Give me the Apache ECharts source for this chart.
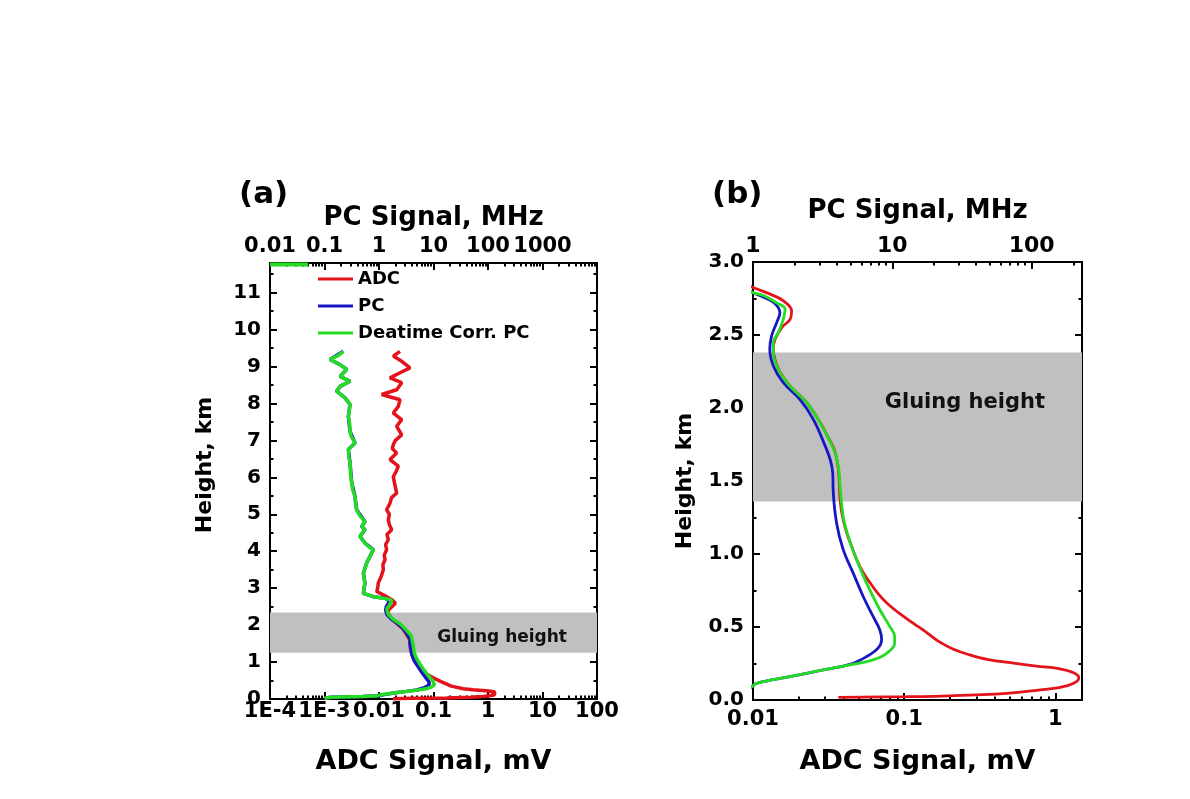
<!DOCTYPE html>
<html><head><meta charset="utf-8">
<script src="https://cdn.jsdelivr.net/npm/echarts@6/dist/echarts.min.js"></script>
<style>html,body{margin:0;padding:0;background:#fff}#c{width:1190px;height:799px}</style>
</head><body><div id="c"></div>
<script>
// ---------- tick values / labels ----------
const aAdcTicks = [1e-4, 1e-3, 0.01, 0.1, 1, 10, 100];
const aAdcLabels = ['1E-4', '1E-3', '0.01', '0.1', '1', '10', '100'];
const aPcTicks = [0.01, 0.1, 1, 10, 100, 1000, 10000];
const aPcLabels = ['0.01', '0.1', '1', '10', '100', '1000', ''];
const bAdcTicks = [0.01, 0.1, 1];
const bAdcLabels = ['0.01', '0.1', '1'];
const bPcTicks = [1, 10, 100];
const bPcLabels = ['1', '10', '100'];
const legendNames = ['ADC', 'PC', 'Deatime Corr. PC'];
const gluingA = [1.25, 2.34];
const gluingB = [1.36, 2.38];

// ---------- panel (a) data: [height km, signal] ----------
const aRed = [[0.01,0.018],[0.018,0.04],[0.027,0.173],[0.046,0.478],[0.069,0.796],[0.087,1.08],[0.114,1.32],[0.153,1.43],[0.187,1.32],[0.217,1.03],[0.252,0.53],[0.279,0.353],[0.348,0.212],[0.462,0.141],[0.572,0.099],[0.663,0.077],[0.801,0.0596],[0.961,0.0486],[1.144,0.0417],[1.373,0.0377],[1.60,0.0367],[1.90,0.0278],[2.15,0.0176],[2.33,0.0145],[2.41,0.0150],[2.59,0.0200],[2.68,0.0175],[2.77,0.0138],[2.91,0.0091],[3.02,0.0095],[3.14,0.0097],[3.32,0.0110],[3.50,0.0120],[3.64,0.0118],[3.77,0.0129],[3.90,0.0125],[4.04,0.0138],[4.18,0.0132],[4.31,0.0148],[4.45,0.0140],[4.58,0.0171],[4.72,0.0155],[4.85,0.0148],[5.00,0.0155],[5.12,0.0138],[5.30,0.0159],[5.45,0.0170],[5.57,0.0211],[5.80,0.0195],[6.02,0.0183],[6.15,0.0205],[6.30,0.0226],[6.48,0.0159],[6.66,0.0211],[6.78,0.0175],[6.88,0.0183],[7.00,0.0200],[7.15,0.0261],[7.38,0.0211],[7.56,0.0261],[7.74,0.0183],[7.92,0.0226],[8.10,0.0243],[8.24,0.0112],[8.37,0.0211],[8.56,0.0261],[8.69,0.0159],[8.83,0.0243],[8.96,0.0371],[9.14,0.0261],[9.28,0.0183],[9.41,0.0243]];
const aBlue = [[0.02,0.10],[0.045,0.13],[0.07,0.5],[0.091,0.98],[0.114,1.06],[0.160,1.84],[0.206,3.19],[0.244,4.96],[0.297,6.53],[0.355,7.9],[0.412,8.38],[0.480,8.14],[0.572,7.28],[0.709,6.18],[0.869,5.24],[1.03,4.44],[1.212,3.98],[1.441,3.76],[1.624,3.7],[1.739,3.37],[1.922,2.71],[2.059,2.17],[2.174,1.65],[2.288,1.40],[2.402,1.32],[2.494,1.36],[2.586,1.48],[2.654,1.56],[2.724,1.30],[2.77,0.787],[2.86,0.517],[3.14,0.553],[3.41,0.517],[3.68,0.594],[3.86,0.684],[4.04,0.787],[4.22,0.553],[4.40,0.448],[4.58,0.553],[4.67,0.481],[4.80,0.553],[5.12,0.389],[5.48,0.363],[5.85,0.316],[6.39,0.294],[6.75,0.274],[6.93,0.363],[7.24,0.294],[7.65,0.274],[7.97,0.294],[8.15,0.238],[8.33,0.167],[8.46,0.193],[8.60,0.294],[8.73,0.193],[8.92,0.256],[9.05,0.193],[9.19,0.126],[9.41,0.221]];
const aGreen = [[0.02,0.10],[0.045,0.13],[0.07,0.5],[0.087,0.97],[0.114,1.06],[0.160,1.84],[0.206,3.19],[0.240,4.96],[0.275,7.28],[0.320,9.09],[0.389,10.4],[0.435,10.4],[0.503,9.6],[0.618,8.14],[0.801,6.53],[0.961,5.54],[1.121,4.82],[1.258,4.44],[1.487,4.2],[1.716,3.9],[1.90,3.02],[2.036,2.43],[2.150,1.84],[2.265,1.52],[2.379,1.40],[2.45,1.40],[2.516,1.52],[2.608,1.65],[2.677,1.70],[2.72,1.30],[2.77,0.787],[2.86,0.517],[3.00,0.53],[3.14,0.553],[3.28,0.53],[3.41,0.517],[3.55,0.56],[3.68,0.594],[3.86,0.684],[4.04,0.787],[4.12,0.65],[4.22,0.553],[4.40,0.448],[4.58,0.553],[4.67,0.481],[4.80,0.553],[4.95,0.45],[5.12,0.389],[5.30,0.37],[5.48,0.363],[5.65,0.33],[5.85,0.316],[6.10,0.30],[6.39,0.294],[6.55,0.28],[6.75,0.274],[6.93,0.363],[7.10,0.31],[7.24,0.294],[7.45,0.29],[7.65,0.274],[7.80,0.285],[7.97,0.294],[8.15,0.238],[8.33,0.167],[8.46,0.193],[8.60,0.294],[8.73,0.193],[8.92,0.256],[9.05,0.193],[9.19,0.126],[9.30,0.18],[9.41,0.221]];
const aGreenTop = [[11.76,0.01],[11.76,0.05]];

// ---------- panel (b) data: [height km, signal] ----------
const bRed = [[0.018,0.0367],[0.023,0.104],[0.027,0.173],[0.046,0.478],[0.069,0.796],[0.087,1.08],[0.114,1.32],[0.153,1.43],[0.187,1.32],[0.217,1.03],[0.229,0.796],[0.252,0.53],[0.279,0.353],[0.31,0.27],[0.348,0.212],[0.40,0.17],[0.462,0.141],[0.52,0.117],[0.572,0.099],[0.663,0.077],[0.73,0.067],[0.801,0.0596],[0.88,0.053],[0.961,0.0486],[1.05,0.045],[1.144,0.0417],[1.26,0.039],[1.373,0.0377],[1.49,0.0372],[1.60,0.0365],[1.716,0.0345],[1.81,0.031],[1.90,0.0278],[2.036,0.0227],[2.15,0.0176],[2.25,0.0150],[2.33,0.0140],[2.402,0.0136],[2.471,0.0140],[2.551,0.0155],[2.608,0.0176],[2.665,0.018],[2.734,0.0159],[2.78,0.0130],[2.825,0.0100],[2.85,0.0088]];
const bBlue = [[0.06,0.85],[0.091,0.98],[0.114,1.06],[0.160,1.84],[0.206,3.19],[0.244,4.96],[0.297,6.53],[0.355,7.9],[0.412,8.38],[0.480,8.14],[0.572,7.28],[0.709,6.18],[0.869,5.24],[1.03,4.44],[1.212,3.98],[1.441,3.76],[1.55,3.74],[1.64,3.6],[1.739,3.3],[1.922,2.71],[2.059,2.17],[2.174,1.65],[2.288,1.40],[2.402,1.32],[2.494,1.36],[2.586,1.48],[2.654,1.56],[2.724,1.40],[2.77,1.12],[2.79,1.0],[2.81,0.9]];
const bGreen = [[0.06,0.85],[0.087,0.97],[0.114,1.06],[0.160,1.84],[0.206,3.19],[0.240,4.96],[0.275,7.28],[0.320,9.09],[0.389,10.4],[0.435,10.4],[0.503,9.6],[0.618,8.14],[0.801,6.53],[0.961,5.54],[1.121,4.82],[1.258,4.44],[1.487,4.2],[1.60,4.1],[1.716,3.8],[1.90,3.02],[2.036,2.43],[2.150,1.84],[2.265,1.52],[2.379,1.40],[2.45,1.40],[2.516,1.52],[2.608,1.65],[2.677,1.70],[2.72,1.48],[2.77,1.19],[2.79,1.0],[2.81,0.9]];

// ---------- styling ----------
const FONT = 'DejaVu Sans';
const RED = '#e3121b', BLUE = '#1616c4', GREEN = '#25dc25', BAND = '#c0c0c0';

function minorTicks(lo, hi) {
  const out = [];
  for (let e = Math.floor(Math.log10(lo)) - 1; e <= Math.ceil(Math.log10(hi)); e++) {
    for (let k = 2; k <= 9; k++) { const v = k * Math.pow(10, e); if (v > lo * 1.0001 && v < hi * 0.9999) out.push(v); }
  }
  return out;
}
function lookup(ticks, labels) {
  return function (v) {
    for (let i = 0; i < ticks.length; i++) if (Math.abs(Math.log10(v) - Math.log10(ticks[i])) < 1e-6) return labels[i];
    return '';
  };
}
const black = { color: '#000', width: 2 };
function logAxis(o) {
  return {
    type: 'log', logBase: 10, gridIndex: o.grid, position: o.pos, min: o.min, max: o.max,
    axisLine: { show: true, onZero: false, lineStyle: black },
    axisTick: { show: true, inside: true, length: o.minor ? 3.5 : 7, lineStyle: black, customValues: o.ticks },
    axisLabel: o.labels ? { show: true, customValues: o.ticks, formatter: lookup(o.ticks, o.labels), margin: o.margin,
      fontFamily: FONT, fontWeight: 'bold', fontSize: o.fs, color: '#000' } : { show: false },
    splitLine: { show: false }, minorTick: { show: false },
    name: o.name || '', nameLocation: 'middle', nameGap: o.nameGap || 0,
    nameTextStyle: { fontFamily: FONT, fontWeight: 'bold', fontSize: o.nameSize || 24, color: '#000' },
    silent: true
  };
}
function valAxis(o) {
  return {
    type: 'value', gridIndex: o.grid, position: o.pos, min: o.min, max: o.max, interval: o.interval,
    axisLine: { show: true, onZero: false, lineStyle: black },
    axisTick: { show: true, inside: true, length: 7, lineStyle: black },
    minorTick: { show: true, splitNumber: 2, length: 3.5, lineStyle: black },
    axisLabel: o.labels ? { show: true, margin: o.margin, showMaxLabel: o.showMax, formatter: o.fmt,
      fontFamily: FONT, fontWeight: 'bold', fontSize: 20, color: '#000' } : { show: false },
    splitLine: { show: false }, minorSplitLine: { show: false },
    name: o.name || '', nameLocation: 'middle', nameGap: o.nameGap || 0,
    nameTextStyle: { fontFamily: FONT, fontWeight: 'bold', fontSize: 22, color: '#000', padding: o.namePad || 0 },
    silent: true
  };
}
function line(name, pairs, xi, yi, color, width, smooth, extra) {
  return Object.assign({
    type: 'line', name, xAxisIndex: xi, yAxisIndex: yi,
    data: pairs.map(p => [p[1], p[0]]),
    showSymbol: false, symbol: 'none', smooth: smooth, clip: true,
    lineStyle: { color, width }, itemStyle: { color },
    emphasis: { disabled: true }, silent: true, animation: false
  }, extra || {});
}
function band(range, fs, offset, dist) {
  return {
    silent: true, itemStyle: { color: BAND },
    label: { show: true, position: 'insideRight', distance: dist, offset: offset,
      fontFamily: FONT, fontWeight: 'bold', fontSize: fs, color: '#111' },
    data: [[{ yAxis: range[0], name: 'Gluing height' }, { yAxis: range[1] }]]
  };
}

const GA = { left: 270, top: 263, width: 327, height: 436 };
const GB = { left: 753, top: 262, width: 329, height: 438 };

const option = {
  backgroundColor: '#fff',
  animation: false,
  title: [
    { text: '(a)', left: 239, top: 179, padding: 0, textStyle: { fontFamily: FONT, fontWeight: 'bold', fontSize: 31, color: '#000' } },
    { text: '(b)', left: 712, top: 179, padding: 0, textStyle: { fontFamily: FONT, fontWeight: 'bold', fontSize: 31, color: '#000' } }
  ],
  legend: {
    data: legendNames, orient: 'vertical', left: 318, top: 270, padding: 0,
    icon: 'rect', itemWidth: 35, itemHeight: 3, itemGap: 9, selectedMode: false,
    textStyle: { fontFamily: FONT, fontWeight: 'bold', fontSize: 18, color: '#000' }
  },
  grid: [
    Object.assign({}, GA), Object.assign({}, GA),
    Object.assign({}, GB), Object.assign({}, GB)
  ],
  xAxis: [
    logAxis({ grid: 0, pos: 'bottom', min: 1e-4, max: 100, ticks: aAdcTicks, labels: aAdcLabels, margin: 2, fs: 21, name: 'ADC Signal, mV', nameGap: 49, nameSize: 27 }),
    logAxis({ grid: 0, pos: 'top', min: 0.01, max: 10000, ticks: aPcTicks, labels: aPcLabels, margin: 6, fs: 21, name: 'PC Signal, MHz', nameGap: 30, nameSize: 26 }),
    logAxis({ grid: 1, pos: 'bottom', min: 1e-4, max: 100, ticks: minorTicks(1e-4, 100), minor: true }),
    logAxis({ grid: 1, pos: 'top', min: 0.01, max: 10000, ticks: minorTicks(0.01, 10000), minor: true }),
    logAxis({ grid: 2, pos: 'bottom', min: 0.01, max: 1.5, ticks: bAdcTicks, labels: bAdcLabels, margin: 9, fs: 21, name: 'ADC Signal, mV', nameGap: 48, nameSize: 27 }),
    logAxis({ grid: 2, pos: 'top', min: 1, max: 230, ticks: bPcTicks, labels: bPcLabels, margin: 5, fs: 22, name: 'PC Signal, MHz', nameGap: 38, nameSize: 26 }),
    logAxis({ grid: 3, pos: 'bottom', min: 0.01, max: 1.5, ticks: minorTicks(0.01, 1.5), minor: true }),
    logAxis({ grid: 3, pos: 'top', min: 1, max: 230, ticks: minorTicks(1, 230), minor: true })
  ],
  yAxis: [
    valAxis({ grid: 0, pos: 'left', min: 0, max: 11.8, interval: 1, labels: true, margin: 9, showMax: false, name: 'Height, km', nameGap: 54, namePad: [0, 0, 0, 32] }),
    valAxis({ grid: 0, pos: 'right', min: 0, max: 11.8, interval: 1, labels: false }),
    { gridIndex: 1, type: 'value', show: false, min: 0, max: 1 },
    valAxis({ grid: 2, pos: 'left', min: 0, max: 3, interval: 0.5, labels: true, margin: 9, showMax: true, fmt: v => v.toFixed(1), name: 'Height, km', nameGap: 57 }),
    valAxis({ grid: 2, pos: 'right', min: 0, max: 3, interval: 0.5, labels: false }),
    { gridIndex: 3, type: 'value', show: false, min: 0, max: 1 }
  ],
  series: [
    line('ADC', aRed, 0, 0, RED, 3.5, false, { markArea: band(gluingA, 17, [0, 5], 30) }),
    line('PC', aBlue, 1, 0, BLUE, 3.5, false),
    line('Deatime Corr. PC', aGreen, 1, 0, GREEN, 3.5, false),
    line('Deatime Corr. PC', aGreenTop, 1, 0, GREEN, 4, false),
    line('ADC', bRed, 4, 3, RED, 2.8, 0.4, { markArea: band(gluingB, 21, [0, -24], 37) }),
    line('PC', bBlue, 5, 3, BLUE, 2.8, 0.4),
    line('Deatime Corr. PC', bGreen, 5, 3, GREEN, 2.8, 0.4)
  ]
};
const chart = echarts.init(document.getElementById('c'), null, { renderer: 'canvas' });
chart.setOption(option);
</script>
</body></html>
